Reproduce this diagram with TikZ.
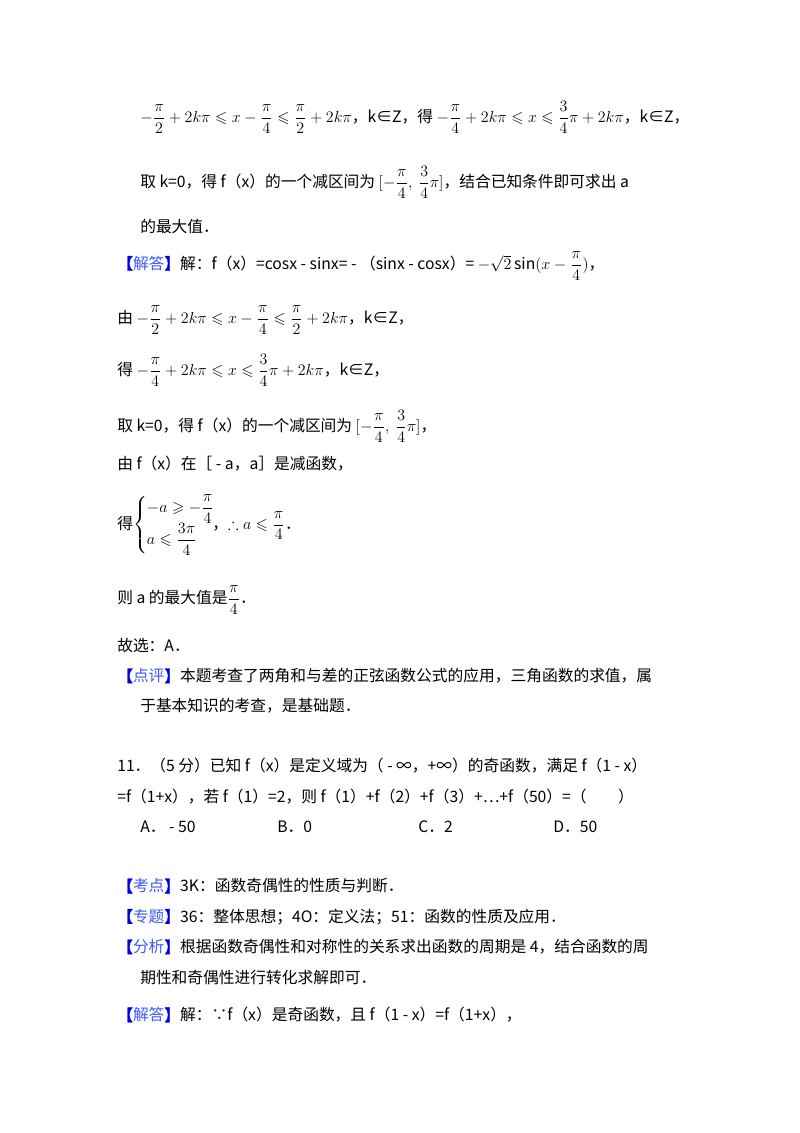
\documentclass[tikz,border=0pt]{standalone}
\usepackage{amsmath,amssymb}
\usepackage{fontspec}
\setmainfont{Noto Sans CJK SC}
\newfontfamily\brk[FakeBold=2]{Noto Sans CJK SC}
\definecolor{hb}{RGB}{0,0,230}
\definecolor{hl}{RGB}{60,90,255}
\newcommand{\hd}[1]{{\color{hb}\brk 【}{\color{hl}#1}{\color{hb}\brk 】}}
\newcommand{\fr}[2]{\dfrac{#1}{#2}}
\begin{document}
\begin{tikzpicture}[x=0.75pt,y=-0.75pt,every node/.style={anchor=west,inner sep=0pt,font=\fontsize{11.8pt}{14pt}\selectfont}]
\useasboundingbox (0,0) rectangle (800,1133);
\fill[white] (0,0) rectangle (800,1133);
\node (l1) at (140,117) {$-\fr{\pi}{2}+2k\pi\leqslant x-\fr{\pi}{4}\leqslant\fr{\pi}{2}+2k\pi$，k∈Z，得 $-\fr{\pi}{4}+2k\pi\leqslant x\leqslant\fr{3}{4}\pi+2k\pi$，k∈Z，};
\node (l2) at (140,182) {取 k=0，得 f（x）的一个减区间为 $[-\fr{\pi}{4},\ \fr{3}{4}\pi]$，结合已知条件即可求出 a};
\node (l3) at (140,226) {的最大值．};
\node (l4) at (117,266) {\hd{解答}解：f（x）=cosx ‑ sinx= ‑ （sinx ‑ cosx）= $-\sqrt{2}\sin(x-\fr{\pi}{4})$，};
\node (l5) at (117,320) {由 $-\fr{\pi}{2}+2k\pi\leqslant x-\fr{\pi}{4}\leqslant\fr{\pi}{2}+2k\pi$，k∈Z，};
\node (l6) at (117,370) {得 $-\fr{\pi}{4}+2k\pi\leqslant x\leqslant\fr{3}{4}\pi+2k\pi$，k∈Z，};
\node (l7) at (117,426) {取 k=0，得 f（x）的一个减区间为 $[-\fr{\pi}{4},\ \fr{3}{4}\pi]$，};
\node (l8) at (117,464) {由 f（x）在［ ‑ a，a］是减函数，};
\node (l9) at (117,525) {得$\begin{cases}-a\geqslant-\fr{\pi}{4}\\[2pt] a\leqslant\fr{3\pi}{4}\end{cases}$\hspace{-1.2em}，$\therefore a\leqslant\fr{\pi}{4}$．};
\node (l10) at (117,600) {则 a 的最大值是$\fr{\pi}{4}$．};
\node (l11) at (117,646) {故选：A．};
\node (l12) at (117,676) {\hd{点评}本题考查了两角和与差的正弦函数公式的应用，三角函数的求值，属};
\node (l13) at (140,706) {于基本知识的考查，是基础题．};
\node (l14) at (117,766) {11．（5 分）已知 f（x）是定义域为（ ‑ ∞，+∞）的奇函数，满足 f（1 ‑ x）};
\node (l15) at (117,797) {=f（1+x），若 f（1）=2，则 f（1）+f（2）+f（3）+…+f（50）=（　　）};
\node (a) at (140,827) {A． ‑ 50};
\node (b) at (277,827) {B．0};
\node (c) at (418,827) {C．2};
\node (d) at (553,827) {D．50};
\node (l16) at (117,886) {\hd{考点}3K：函数奇偶性的性质与判断．};
\node (l17) at (117,917) {\hd{专题}36：整体思想；4O：定义法；51：函数的性质及应用．};
\node (l18) at (117,947) {\hd{分析}根据函数奇偶性和对称性的关系求出函数的周期是 4，结合函数的周};
\node (l19) at (140,978) {期性和奇偶性进行转化求解即可．};
\node (l20) at (117,1015) {\hd{解答}解：∵f（x）是奇函数，且 f（1 ‑ x）=f（1+x），};
\end{tikzpicture}
\end{document}
